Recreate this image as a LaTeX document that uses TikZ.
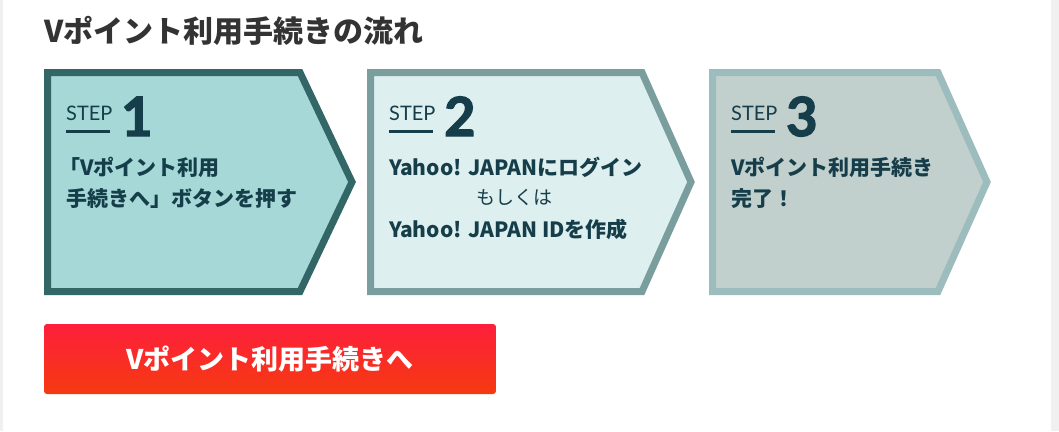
\documentclass[tikz,border=0pt]{standalone}
\usepackage{fontspec}
\setmainfont{Noto Sans CJK JP}
\newfontfamily\stepfont{Lato}
\newfontfamily\numfont{Lato}[FakeBold=2.5]
\usetikzlibrary{positioning}
\definecolor{ink}{HTML}{163E4A}
\definecolor{headc}{HTML}{333333}
\definecolor{edgeA}{HTML}{336666}
\definecolor{fillA}{HTML}{A5D8D6}
\definecolor{edgeB}{HTML}{7A9E9E}
\definecolor{fillB}{HTML}{DDEFEE}
\definecolor{edgeC}{HTML}{9DBCBD}
\definecolor{fillC}{HTML}{C2D0CD}
\definecolor{btntop}{HTML}{FE1F3C}
\definecolor{btnbot}{HTML}{F53A10}
\tikzset{
  steplabel/.style={anchor=base west, inner sep=0pt, font=\stepfont\fontsize{20}{20}\selectfont, text=ink},
  stepnum/.style={anchor=base west, inner sep=0pt, font=\numfont\bfseries\fontsize{54}{54}\selectfont, text=ink},
  steptext/.style={anchor=base west, inner sep=0pt, font=\bfseries\fontsize{21}{21}\selectfont, text=ink},
}
\newcommand{\arrowbox}[5]{%
  \filldraw[draw=#4, fill=#5, line width=7pt, line join=miter]
    (#1+3.5,-72.5) -- (#2,-72.5) -- (#3,-182) -- (#2,-291.5) -- (#1+3.5,-291.5) -- cycle;}
\begin{document}
\begin{tikzpicture}[x=1pt,y=1pt]
  \fill[black!6] (0,0) rectangle (1059,-431);
  \fill[white] (3,0) rectangle (1051,-431);
  \useasboundingbox (0,0) rectangle (1059,-431);

  \node[anchor=base west, inner sep=0pt, text=headc, font=\bfseries\fontsize{30}{30}\selectfont] (title) at (44,-42) {Vポイント利用手続きの流れ};

  \arrowbox{44}{300}{352}{edgeA}{fillA}
  \arrowbox{367}{642}{691}{edgeB}{fillB}
  \arrowbox{709}{938}{987}{edgeC}{fillC}

  % step 1
  \node[steplabel] (s1) at (66,-120) {STEP};
  \draw[ink, line width=3pt] (66,-131) -- (110,-131);
  \node[stepnum] (n1) at (121,-136) {1};
  \node[steptext] (t1a) at (59,-175) {「Vポイント利用};
  \node[steptext] (t1b) at (66,-206) {手続きへ」ボタンを押す};

  % step 2
  \node[steplabel] (s2) at (389,-120) {STEP};
  \draw[ink, line width=3pt] (389,-131) -- (433,-131);
  \node[stepnum] (n2) at (444,-136) {2};
  \node[steptext] (t2a) at (389,-175) {Yahoo! JAPANにログイン};
  \node[anchor=base, inner sep=0pt, text=ink, font=\fontsize{19}{19}\selectfont] (t2b) at (514,-204) {もしくは};
  \node[steptext] (t2c) at (389,-237) {Yahoo! JAPAN IDを作成};

  % step 3
  \node[steplabel] (s3) at (731,-120) {STEP};
  \draw[ink, line width=3pt] (731,-131) -- (775,-131);
  \node[stepnum] (n3) at (786,-136) {3};
  \node[steptext] (t3a) at (731,-175) {Vポイント利用手続き};
  \node[steptext] (t3b) at (731,-206) {完了！};

  % button
  \shade[top color=btntop, bottom color=btnbot, rounded corners=3pt] (44,-324) rectangle (496,-394);
  \node[text=white, font=\bfseries\fontsize{27}{27}\selectfont] (btn) at (270,-359) {Vポイント利用手続きへ};
\end{tikzpicture}
\end{document}
